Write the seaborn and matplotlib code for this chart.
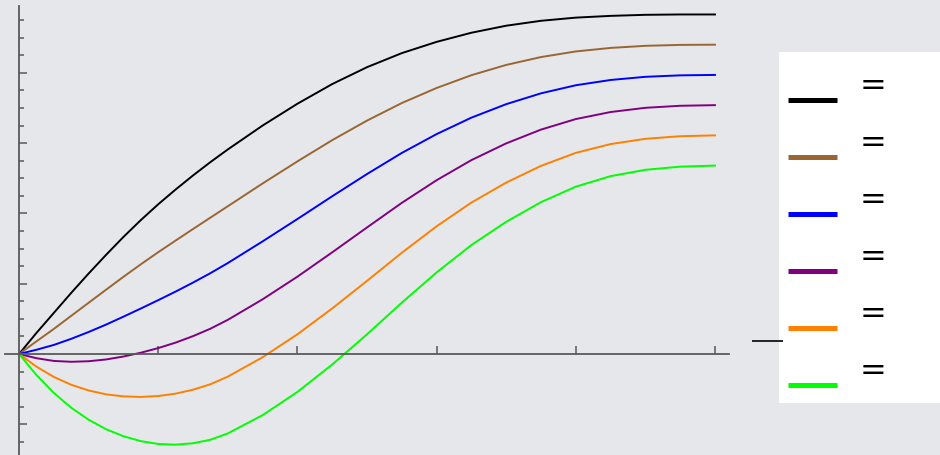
import numpy as np
import pandas as pd
import matplotlib
matplotlib.use("Agg")
import matplotlib.pyplot as plt
import seaborn as sns
from matplotlib.ticker import FixedLocator, NullFormatter
from matplotlib.patches import Rectangle
from matplotlib.lines import Line2D

# values, x in tick units (0..5)
x_vals = [0, 0.125, 0.25, 0.375, 0.5, 0.625, 0.75, 0.875, 1.0, 1.125, 1.25,
          1.375, 1.5, 1.75, 2.0, 2.25, 2.5, 2.75, 3.0, 3.25, 3.5, 3.75,
          4.0, 4.25, 4.5, 4.75, 5.0]
black_y = [0, 0.30, 0.585, 0.87, 1.145, 1.41, 1.665, 1.905, 2.13, 2.34, 2.54,
           2.73, 2.91, 3.25, 3.56, 3.84, 4.08, 4.28, 4.44, 4.57, 4.67, 4.74,
           4.785, 4.81, 4.825, 4.83, 4.83]
brown_y = [0, 0.18, 0.357, 0.543, 0.729, 0.914, 1.098, 1.276, 1.448, 1.614, 1.778,
           1.94, 2.102, 2.426, 2.74, 3.042, 3.32, 3.57, 3.784, 3.966, 4.112, 4.224,
           4.304, 4.354, 4.384, 4.397, 4.40]
blue_y = [0, 0.06, 0.129, 0.216, 0.313, 0.418, 0.531, 0.647, 0.766, 0.888, 1.016,
          1.15, 1.294, 1.602, 1.92, 2.244, 2.56, 2.86, 3.128, 3.362, 3.554, 3.708,
          3.823, 3.898, 3.943, 3.964, 3.97]
purple_y = [0, -0.06, -0.099, -0.111, -0.103, -0.078, -0.036, 0.018, 0.084, 0.162, 0.254,
            0.36, 0.486, 0.778, 1.10, 1.446, 1.80, 2.15, 2.472, 2.758, 2.996, 3.192,
            3.342, 3.442, 3.502, 3.531, 3.54]
orange_y = [0, -0.18, -0.327, -0.438, -0.519, -0.574, -0.603, -0.611, -0.598, -0.564, -0.508,
            -0.43, -0.322, -0.046, 0.28, 0.648, 1.04, 1.44, 1.816, 2.154, 2.438, 2.676,
            2.861, 2.986, 3.061, 3.098, 3.11]
green_y = [0, -0.30, -0.555, -0.765, -0.935, -1.07, -1.17, -1.24, -1.28, -1.29, -1.27,
           -1.22, -1.13, -0.87, -0.54, -0.15, 0.28, 0.73, 1.16, 1.55, 1.88, 2.16,
           2.38, 2.53, 2.62, 2.665, 2.68]

series_names = ["c1", "c2", "c3", "c4", "c5", "c6"]
series_vals = [black_y, brown_y, blue_y, purple_y, orange_y, green_y]
series_colors = ["#000000", "#996633", "#0000ff", "#800080", "#ff8000", "#00ff00"]
legend_labels = ["=", "=", "=", "=", "=", "="]

x_ticks = [1, 2, 3, 4, 5]
y_major = [-1, 1, 2, 3, 4]
y_minor = [-1.25, -0.75, -0.5, -0.25, 0.25, 0.5, 0.75, 1.25, 1.5, 1.75,
           2.25, 2.5, 2.75, 3.25, 3.5, 3.75, 4.25, 4.5, 4.75]

df = pd.concat(
    [pd.DataFrame({"x": x_vals, "y": v, "series": n})
     for n, v in zip(series_names, series_vals)],
    ignore_index=True,
)

bg = "#e5e7ea"
axis_col = "#5a5a5a"

fig = plt.figure(figsize=(9.4, 4.56), dpi=100, facecolor=bg)
ax = fig.add_axes([0, 0, 740 / 940, 1])
ax.set_facecolor("none")

sns.lineplot(data=df, x="x", y="y", hue="series", hue_order=series_names,
             palette=dict(zip(series_names, series_colors)),
             linewidth=1.4, legend=False, ax=ax)
for ln in ax.get_lines():
    ln.set_solid_joinstyle("round")

ax.set_xlim(-0.137, 5.18)
ax.set_ylim(-1.437, 5.05)
ax.set_xlabel("")
ax.set_ylabel("")

# Mathematica-like axes crossing at the origin
for side in ["top", "right"]:
    ax.spines[side].set_visible(False)
ax.spines["left"].set_position(("data", 0))
ax.spines["bottom"].set_position(("data", 0))
ax.spines["left"].set_bounds(-1.437, 4.95)
ax.spines["bottom"].set_bounds(-0.10, 5.10)
for side in ["left", "bottom"]:
    ax.spines[side].set_color(axis_col)
    ax.spines[side].set_linewidth(1.3)

ax.xaxis.set_major_locator(FixedLocator(x_ticks))
ax.yaxis.set_major_locator(FixedLocator(y_major))
ax.yaxis.set_minor_locator(FixedLocator(y_minor))
ax.xaxis.set_major_formatter(NullFormatter())
ax.yaxis.set_major_formatter(NullFormatter())
ax.tick_params(axis="both", which="major", direction="in", length=5.8,
               width=1.1, color=axis_col)
ax.tick_params(axis="y", which="minor", direction="in", length=3.5,
               width=1.1, color=axis_col)

# stray dash peeking out from behind the legend
fig.add_artist(Line2D([753 / 940, 782 / 940], [1 - 342 / 456, 1 - 342 / 456],
                      color="#222222", linewidth=1.4))

# legend panel drawn by hand to keep the raised "=" labels
fig.add_artist(Rectangle((779 / 940, 1 - 404 / 456), 161 / 940, 351 / 456,
                         facecolor="white", edgecolor="none"))
for i, (col, lab) in enumerate(zip(series_colors, legend_labels)):
    yline = 1 - (101.3 + 57 * i) / 456
    fig.text(873 / 940, yline + 15 / 456, lab, ha="center", va="center",
             fontsize=23, color="black")
    fig.add_artist(Line2D([788 / 940, 837 / 940], [yline, yline],
                          color=col, linewidth=3.6, solid_capstyle="butt"))

fig.savefig("out.png", dpi=100, facecolor=bg)
